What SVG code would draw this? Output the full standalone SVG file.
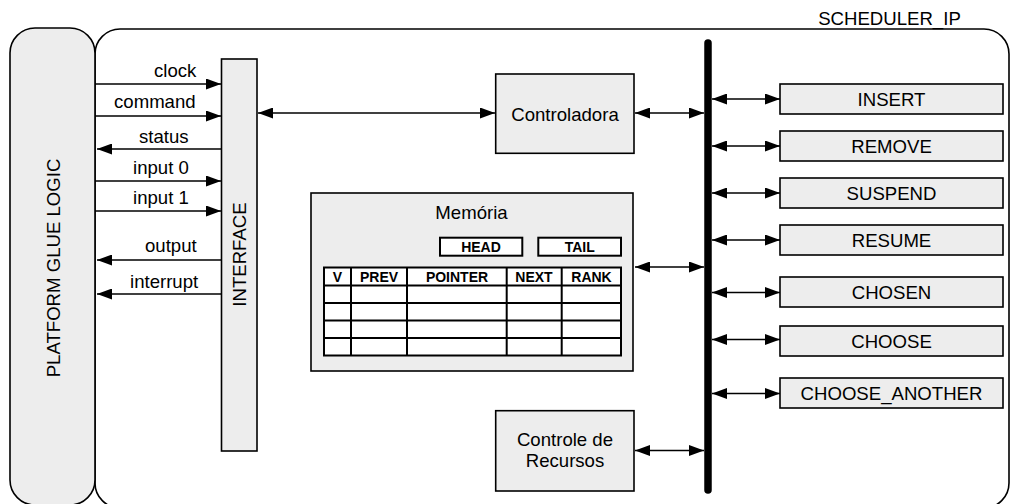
<svg xmlns="http://www.w3.org/2000/svg" width="1011" height="504" viewBox="0 0 1011 504">
<defs>
<style>
.box{fill:#ededed;stroke:#000;stroke-width:1.6}
.wbox{fill:#fff;stroke:#000;stroke-width:2}
.t{font-family:"Liberation Sans",Arial,sans-serif;font-size:18.6px;fill:#000}
.c{text-anchor:middle}
.e{text-anchor:end}
.b{font-family:"Liberation Sans",Arial,sans-serif;font-size:14px;font-weight:bold;text-anchor:middle;fill:#000}
.ln{stroke:#000;stroke-width:1.5;fill:none}
.one{marker-end:url(#ah)}
.two{marker-start:url(#ah);marker-end:url(#ah)}
.grid{stroke:#000;stroke-width:2;fill:none}
</style>
<marker id="ah" viewBox="0 0 15 11" refX="15" refY="5.5" markerWidth="15" markerHeight="11" markerUnits="userSpaceOnUse" orient="auto-start-reverse">
<path d="M0,0 L15,5.5 L0,11 z" fill="#000"/>
</marker>
</defs>
<rect width="1011" height="504" fill="#fff"/>

<g id="scheduler_ip">
<rect x="95" y="29" width="914" height="479" rx="25" ry="25" fill="#fff" stroke="#000" stroke-width="1.6"/>
<text class="t c" x="889.5" y="25">SCHEDULER_IP</text>
</g>

<g id="platform_glue_logic">
<rect class="box" x="10" y="28" width="85" height="477" rx="25" ry="25"/>
<text class="t c" transform="translate(59.5,268) rotate(-90)">PLATFORM GLUE LOGIC</text>
</g>

<g id="interface">
<rect class="box" x="221.5" y="59" width="35.5" height="392"/>
<text class="t c" transform="translate(246,254.5) rotate(-90)">INTERFACE</text>
</g>

<g id="controladora">
<rect class="box" x="495.7" y="74" width="138.3" height="79.3"/>
<text class="t c" x="565" y="121">Controladora</text>
</g>

<g id="memoria">
<rect class="box" x="311" y="193" width="322" height="178"/>
<text class="t c" x="471.5" y="219">Memória</text>
<rect class="wbox" x="440" y="237.7" width="82.3" height="18"/>
<text class="b" x="481" y="251.7">HEAD</text>
<rect class="wbox" x="538.3" y="237.7" width="82.7" height="18"/>
<text class="b" x="579.7" y="251.7">TAIL</text>
<rect class="wbox" x="324" y="267.5" width="297" height="88"/>
<path class="grid" d="M324,285.5H621 M324,303H621 M324,320.5H621 M324,338H621 M351,267.5V355.5 M407,267.5V355.5 M506.7,267.5V355.5 M561.7,267.5V355.5"/>
<text class="b" x="337.5" y="281.5">V</text>
<text class="b" x="379" y="281.5">PREV</text>
<text class="b" x="457" y="281.5">POINTER</text>
<text class="b" x="534" y="281.5">NEXT</text>
<text class="b" x="591.5" y="281.5">RANK</text>
</g>

<g id="controle_de_recursos">
<rect class="box" x="495.7" y="410.7" width="138.3" height="80.3"/>
<text class="t c" x="565" y="446">Controle de</text>
<text class="t c" x="565" y="467.3">Recursos</text>
</g>

<g id="insert">
<rect class="box" x="780" y="84" width="223" height="30"/>
<text class="t c" x="891.5" y="106">INSERT</text>
</g>
<g id="remove">
<rect class="box" x="780" y="131" width="223" height="30"/>
<text class="t c" x="891.5" y="153">REMOVE</text>
</g>
<g id="suspend">
<rect class="box" x="780" y="178" width="223" height="30"/>
<text class="t c" x="891.5" y="200">SUSPEND</text>
</g>
<g id="resume">
<rect class="box" x="780" y="225" width="223" height="30"/>
<text class="t c" x="891.5" y="247">RESUME</text>
</g>
<g id="chosen">
<rect class="box" x="780" y="277" width="223" height="30"/>
<text class="t c" x="891.5" y="299">CHOSEN</text>
</g>
<g id="choose">
<rect class="box" x="780" y="326" width="223" height="30"/>
<text class="t c" x="891.5" y="348">CHOOSE</text>
</g>
<g id="choose_another">
<rect class="box" x="780" y="378" width="223" height="30"/>
<text class="t c" x="891.5" y="400">CHOOSE_ANOTHER</text>
</g>

<g id="bus">
<line x1="708" y1="43" x2="708" y2="490" stroke="#000" stroke-width="7.5" stroke-linecap="round"/>
</g>

<g id="connectors">
<line class="ln one" x1="95" y1="84" x2="221" y2="84"/>
<line class="ln one" x1="95" y1="116" x2="221" y2="116"/>
<line class="ln one" x1="221" y1="149" x2="97" y2="149"/>
<line class="ln one" x1="95" y1="181" x2="221" y2="181"/>
<line class="ln one" x1="95" y1="211" x2="221" y2="211"/>
<line class="ln one" x1="221" y1="260" x2="97" y2="260"/>
<line class="ln one" x1="221" y1="294" x2="97" y2="294"/>
<line class="ln two" x1="258" y1="113" x2="495" y2="113"/>
<line class="ln two" x1="635" y1="113" x2="704" y2="113"/>
<line class="ln two" x1="635" y1="267" x2="704" y2="267"/>
<line class="ln two" x1="635" y1="450.5" x2="704" y2="450.5"/>
<line class="ln two" x1="712" y1="99" x2="780" y2="99"/>
<line class="ln two" x1="712" y1="146" x2="780" y2="146"/>
<line class="ln two" x1="712" y1="193" x2="780" y2="193"/>
<line class="ln two" x1="712" y1="240" x2="780" y2="240"/>
<line class="ln two" x1="712" y1="292.5" x2="780" y2="292.5"/>
<line class="ln two" x1="712" y1="339.5" x2="780" y2="339.5"/>
<line class="ln two" x1="712" y1="393.5" x2="780" y2="393.5"/>
</g>

<g id="signal_labels">
<text class="t" x="154" y="77">clock</text>
<text class="t" x="114" y="108">command</text>
<text class="t" x="139" y="142.5">status</text>
<text class="t" x="133" y="173.5">input 0</text>
<text class="t" x="133" y="203.5">input 1</text>
<text class="t" x="145" y="252">output</text>
<text class="t" x="130" y="288">interrupt</text>
</g>
</svg>
